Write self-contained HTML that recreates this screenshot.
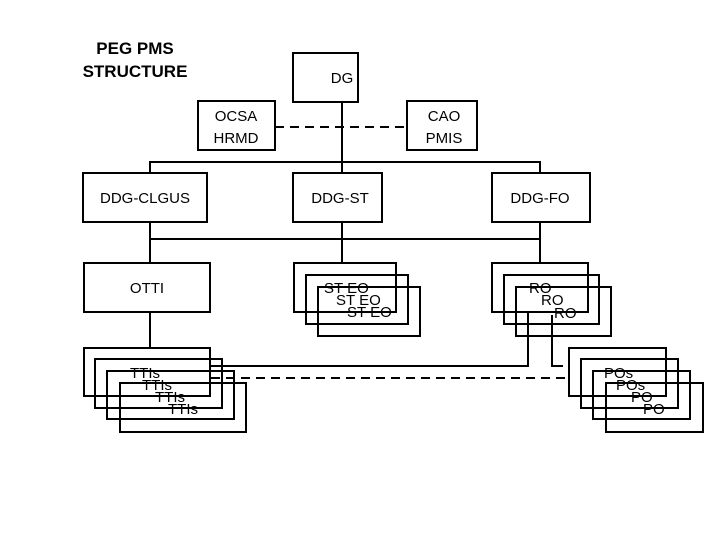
<!DOCTYPE html>
<html><head><meta charset="utf-8"><style>
body{margin:0;background:#fff}
svg{display:block}
text{font-family:"Liberation Sans",sans-serif;font-size:15px;fill:#000}
</style></head><body>
<svg width="720" height="540" viewBox="0 0 720 540" xmlns="http://www.w3.org/2000/svg">
<g fill="none" stroke="#000" stroke-width="2">
<rect x="293" y="53" width="65" height="49"/>
<rect x="198" y="101" width="77" height="49"/>
<rect x="407" y="101" width="70" height="49"/>
<line x1="275" y1="127" x2="407" y2="127" stroke-dasharray="9,6"/>
<line x1="342" y1="102" x2="342" y2="173"/>
<polyline points="150,173 150,162 540,162 540,173"/>
<rect x="83" y="173" width="124" height="49"/>
<rect x="293" y="173" width="89" height="49"/>
<rect x="492" y="173" width="98" height="49"/>
<line x1="150" y1="222" x2="150" y2="263"/>
<line x1="342" y1="222" x2="342" y2="263"/>
<line x1="540" y1="222" x2="540" y2="263"/>
<line x1="150" y1="239" x2="540" y2="239"/>
<rect x="84" y="263" width="126" height="49"/>
<line x1="150" y1="312" x2="150" y2="348"/>
<rect x="84" y="348" width="126" height="48"/>
<rect x="95" y="359" width="127" height="49"/>
<rect x="107" y="371" width="127" height="48"/>
<rect x="120" y="383" width="126" height="49"/>
<rect x="294" y="263" width="102" height="49"/>
<rect x="306" y="275" width="102" height="49"/>
<rect x="318" y="287" width="102" height="49"/>
<rect x="492" y="263" width="96" height="49"/>
<rect x="504" y="275" width="95" height="49"/>
<rect x="516" y="287" width="95" height="49"/>
<polyline points="528,313 528,366 211,366"/>
<polyline points="552,315 552,366 563,366"/>
<line x1="211" y1="378" x2="566" y2="378" stroke-dasharray="9,6"/>
<rect x="569" y="348" width="97" height="48"/>
<rect x="581" y="359" width="97" height="49"/>
<rect x="593" y="371" width="97" height="48"/>
<rect x="606" y="383" width="97" height="49"/>
</g>
<text x="135" y="54" text-anchor="middle" style="font-weight:bold;font-size:17px">PEG PMS</text>
<text x="135" y="77" text-anchor="middle" style="font-weight:bold;font-size:17px">STRUCTURE</text>
<text x="342" y="83" text-anchor="middle">DG</text>
<text x="236" y="121" text-anchor="middle">OCSA</text>
<text x="236" y="143" text-anchor="middle">HRMD</text>
<text x="444" y="121" text-anchor="middle">CAO</text>
<text x="444" y="143" text-anchor="middle">PMIS</text>
<text x="145" y="203" text-anchor="middle">DDG-CLGUS</text>
<text x="340" y="203" text-anchor="middle">DDG-ST</text>
<text x="540" y="203" text-anchor="middle">DDG-FO</text>
<text x="147" y="293" text-anchor="middle">OTTI</text>
<text x="130" y="378">TTIs</text>
<text x="142" y="390">TTIs</text>
<text x="155" y="402">TTIs</text>
<text x="168" y="414">TTIs</text>
<text x="324" y="293">ST EO</text>
<text x="336" y="305">ST EO</text>
<text x="347" y="317">ST EO</text>
<text x="529" y="293">RO</text>
<text x="541" y="305">RO</text>
<text x="554" y="318">RO</text>
<text x="604" y="378">POs</text>
<text x="616" y="390">POs</text>
<text x="631" y="402">PO</text>
<text x="643" y="414">PO</text>
</svg>
</body></html>
